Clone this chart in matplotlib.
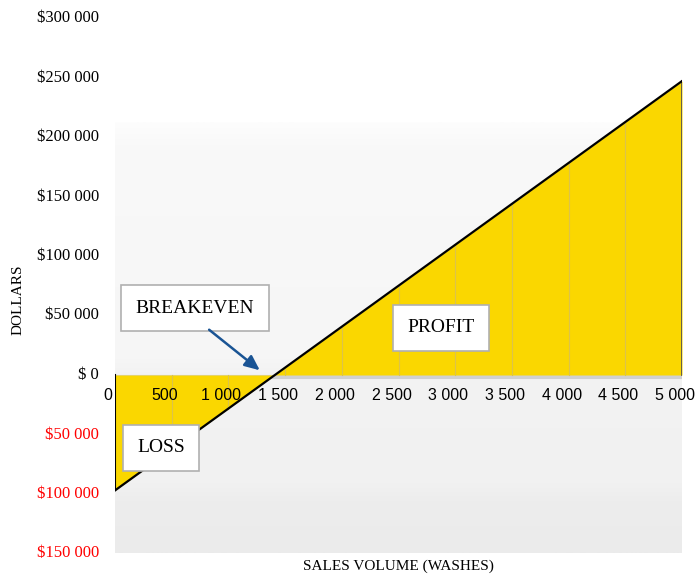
import numpy as np
import matplotlib
matplotlib.use("Agg")
import matplotlib.pyplot as plt
from matplotlib.transforms import ScaledTranslation
from matplotlib.colors import LinearSegmentedColormap

# data
volume = [0, 5000]                 # washes
net_income = [-97000, 247000]      # dollars
x_ticks = [0, 500, 1000, 1500, 2000, 2500, 3000, 3500, 4000, 4500, 5000]
y_ticks = [300000, 250000, 200000, 150000, 100000, 50000, 0, -50000, -100000, -150000]

SERIF = ["Liberation Serif", "DejaVu Serif"]
SANS = ["Liberation Sans", "DejaVu Sans"]
FILL = "#fad700"


def fmt_space(v):
    return f"{abs(v):,}".replace(",", " ")


fig = plt.figure(figsize=(6.95, 5.77), dpi=100)
ax = fig.add_axes([115 / 695, 1 - 553.5 / 577, 567 / 695, 535.5 / 577])
ax.set_xlim(0, 5000)
ax.set_ylim(-150000, 300000)
ax.axis("off")

# soft grey backdrop
cmap = LinearSegmentedColormap.from_list(
    "bg", [(0, "#ebebeb"), (0.12, "#ededed"), (0.16, "#f1f1f1"),
           (0.42, "#f3f3f3"), (0.45, "#f6f6f6"), (0.95, "#f9f9f9"), (1, "#fdfdfd")])
grad = np.linspace(0, 1, 256).reshape(-1, 1)
ax.imshow(grad, cmap=cmap, origin="lower", aspect="auto",
          extent=(0, 5000, -150000, 212000), zorder=0, vmin=0, vmax=1)

# zero line shadow
ax.plot([0, 5000], [-1800, -1800], color="#d0d0d0", lw=3, zorder=1)

# profit / loss area
ax.fill_between(volume, net_income, 0, color=FILL, lw=0, zorder=2)

# faint verticals inside the fill
for xv in x_ticks[1:-1]:
    top = np.interp(xv, volume, net_income)
    ax.plot([xv, xv], [0, top], color="#dcc34a", lw=0.8, zorder=3)

ax.plot([0, 0], [0, net_income[0]], color="black", lw=1.5, zorder=4)
ax.plot([5000, 5000], [0, net_income[1]], color="#555555", lw=1.3, zorder=4)
ax.plot(volume, net_income, color="black", lw=1.6, zorder=5)

# x tick labels sit just under the zero line
xoff = ScaledTranslation(-7 / 100, -20 / 100, fig.dpi_scale_trans)
for xv in x_ticks:
    ax.text(xv, 0, fmt_space(xv), transform=ax.transData + xoff,
            ha="center", va="center", fontsize=11.5, family=SANS, zorder=6)

# y tick labels
yoff = ScaledTranslation(-16 / 100, 0, fig.dpi_scale_trans)
for yv in y_ticks:
    label = "$ 0" if yv == 0 else "$" + fmt_space(yv)
    ax.text(0, yv, label, transform=ax.transData + yoff, ha="right", va="center",
            fontsize=12, family=SERIF, color="red" if yv < 0 else "black",
            clip_on=False)

box = dict(boxstyle="square,pad=0.75", fc="white", ec="#b0b0b0", lw=1.2)
ax.text(705, 56300, "BREAKEVEN", ha="center", va="center", fontsize=14,
        family=SERIF, bbox=box, zorder=7)
ax.text(2875, 39500, "PROFIT", ha="center", va="center", fontsize=14,
        family=SERIF, bbox=box, zorder=7)
ax.text(406, -61300, "LOSS", ha="center", va="center", fontsize=14,
        family=SERIF, bbox=box, zorder=7)

ax.annotate("", xy=(1296, 2500), xytext=(811, 39500),
            arrowprops=dict(arrowstyle="-|>,head_length=0.9,head_width=0.4",
                            color="#1a5494", lw=1.8),
            zorder=8)

fig.text(18 / 695, 1 - 300 / 577, "DOLLARS", rotation=90, ha="center",
         va="center", fontsize=11, family=SERIF)
fig.text(398 / 695, 1 - 566 / 577, "SALES VOLUME (WASHES)", ha="center",
         va="center", fontsize=11, family=SERIF)

fig.savefig("out.png", dpi=100)
